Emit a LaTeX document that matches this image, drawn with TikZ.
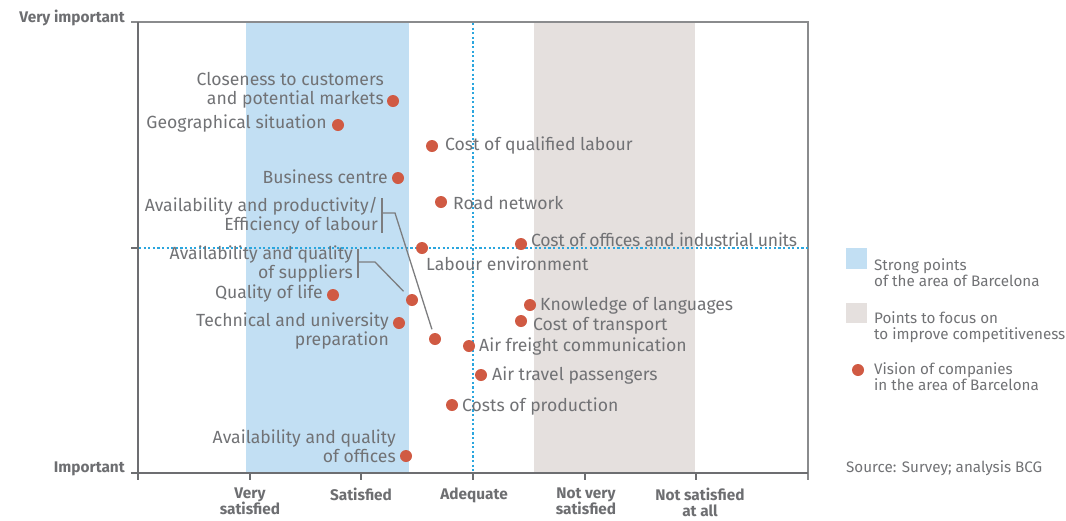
\documentclass[tikz,border=0pt]{standalone}
\usepackage{fontspec}
\setmainfont{Fira Sans}
\definecolor{txt}{HTML}{717275}
\definecolor{axisc}{HTML}{6D6E71}
\definecolor{dotc}{HTML}{D05A43}
\definecolor{blueband}{HTML}{C2DFF3}
\definecolor{grayband}{HTML}{E5E0DE}
\definecolor{dotline}{HTML}{2BA6DE}
\tikzset{
  pt/.style={circle, fill=dotc, inner sep=0pt, minimum size=12pt},
  lab/.style={text=txt, font=\fontsize{17.6}{19}\selectfont, inner sep=0pt},
  labl/.style={lab, anchor=east, align=right},
  labr/.style={lab, anchor=west, align=left},
  axlab/.style={text=axisc, font=\fontsize{15.4}{16}\selectfont\bfseries, inner sep=0pt, align=center},
  leg/.style={text=txt, font=\fontsize{15.2}{16}\selectfont, inner sep=0pt, anchor=west, align=left},
  axisline/.style={draw=axisc, line width=2pt},
  frameline/.style={draw=axisc!80, line width=1.6pt},
  guide/.style={draw=dotline, line width=2.2pt, dash pattern=on 2.2pt off 2.4pt},
  brk/.style={draw=axisc!90, line width=1.3pt},
}
\begin{document}
\begin{tikzpicture}[x=1pt,y=-1pt]
\useasboundingbox (0,0) rectangle (1066,520);
% bands
\fill[blueband] (246,22) rectangle (409,473);
\fill[grayband] (534,22) rectangle (695,473);
% frame
\draw[frameline] (131,22) -- (808,22) -- (808,480);
% guides
\draw[guide] (473,23) -- (473,472);
\draw[guide] (139,248) -- (808,248);
% axes
\draw[axisline] (138,22) -- (138,480);
\draw[axisline] (131,473) -- (808,473);
\draw[axisline] (131,248) -- (138,248);
\foreach \x in {249.5,361,473,584.5,696} \draw[axisline] (\x,473) -- (\x,480);
% axis labels
\node[axlab, anchor=east] (yhi) at (125,18) {Very important};
\node[axlab, anchor=east] (ylo) at (125,469) {Important};
\node[axlab, anchor=north] (x1) at (250,488) {Very\\satisfied};
\node[axlab, anchor=north] (x2) at (361,488) {Satisfied};
\node[axlab, anchor=north] (x3) at (474,488) {Adequate};
\node[axlab, anchor=north] (x4) at (586,488) {Not very\\satisfied};
\node[axlab, anchor=north] (x5) at (700,488) {Not satisfied\\at all};
% points
\node[pt] (p1) at (393,101) {};
\node[labl] (l1) at (384,90) {Closeness to customers\\and potential markets};
\node[pt] (p2) at (338,125) {};
\node[labl] (l2) at (327,124) {Geographical situation};
\node[pt] (p3) at (432,146) {};
\node[labr] (l3) at (445,146) {Cost of qualified labour};
\node[pt] (p4) at (398,178) {};
\node[labl] (l4) at (388,177) {Business centre};
\node[pt] (p5) at (441,202) {};
\node[labr] (l5) at (453,203) {Road network};
\node[labl] (l6) at (378,216) {Availability and productivity/\\Efficiency of labour};
\node[pt] (p6) at (435,339) {};
\node[pt] (p7) at (422,248) {};
\node[labr] (l7) at (426,264) {Labour environment};
\node[pt] (p8) at (521,244) {};
\node[labr] (l8) at (531,240) {\addfontfeature{LetterSpace=-1.5}Cost of offices and industrial units};
\node[labl] (l9) at (353,264) {Availability and quality\\of suppliers};
\node[pt] (p9) at (412,300) {};
\node[pt] (p10) at (333,295) {};
\node[labl] (l10) at (323,294) {Quality of life};
\node[pt] (p11) at (399,323) {};
\node[labl] (l11) at (389,331) {Technical and university\\preparation};
\node[pt] (p12) at (530,305) {};
\node[labr] (l12) at (540,306) {Knowledge of languages};
\node[pt] (p13) at (521,321) {};
\node[labr] (l13) at (533,326) {Cost of transport};
\node[pt] (p14) at (469,346) {};
\node[labr] (l14) at (479,347) {Air freight communication};
\node[pt] (p15) at (481,375) {};
\node[labr] (l15) at (492,376) {Air travel passengers};
\node[pt] (p16) at (452,405) {};
\node[labr] (l16) at (462,407) {Costs of production};
\node[pt] (p17) at (406,456) {};
\node[labl] (l17) at (396,446) {Availability and quality\\of offices};
% brackets and leaders
\coordinate (b1t) at (382,198);
\coordinate (b1b) at (382,233);
\coordinate (b1) at (382,213);
\coordinate (b1k) at (395,213);
\draw[brk] (b1t) -- (b1b);
\draw[brk, shorten >=4pt] (b1) -- (b1k) -- (p6);
\coordinate (b2t) at (358,249);
\coordinate (b2b) at (358,278);
\coordinate (b2) at (358,262);
\coordinate (b2k) at (375,262);
\draw[brk] (b2t) -- (b2b);
\draw[brk, shorten >=6pt] (b2) -- (b2k) -- (p9);
% legend
\fill[blueband] (846,248) rectangle (867,269);
\node[leg] (g1) at (874,273) {Strong points\\of the area of Barcelona};
\fill[grayband] (846,303) rectangle (867,323);
\node[leg] (g2) at (874,327) {Points to focus on\\to improve competitiveness};
\node[pt] (g3d) at (858,370) {};
\node[leg] (g3) at (874,377) {Vision of companies\\in the area of Barcelona};
\node[leg] (src) at (846,468) {Source: Survey; analysis BCG};
\end{tikzpicture}
\end{document}
